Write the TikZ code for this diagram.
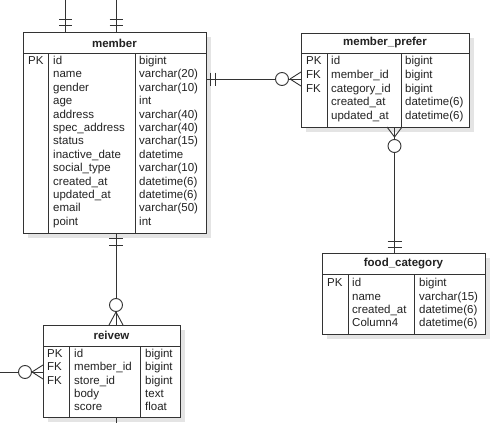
\documentclass[tikz,border=0pt]{standalone}
\usepackage{fontspec}
\setmainfont{Liberation Sans}
\usetikzlibrary{calc,shadows}
\definecolor{ln}{HTML}{333333}
\definecolor{sh}{HTML}{E4E4E4}
\definecolor{tx}{HTML}{222222}
\begin{document}
\begin{tikzpicture}[x=1pt,y=-1pt,
  tbl/.style={draw=ln, line width=0.9pt, fill=white, anchor=north west, inner sep=0pt,
    drop shadow={shadow xshift=5pt, shadow yshift=-5pt, fill=sh, opacity=1}},
  sep/.style={draw=ln, line width=0.9pt},
  hdr/.style={font=\fontsize{11.5}{13}\selectfont\bfseries, text=tx, inner sep=0pt},
  txt/.style={font=\fontsize{11.5}{13}\selectfont, text=tx, inner sep=0pt, anchor=mid west},
  conn/.style={draw=ln, line width=0.9pt},
  ring/.style={draw=ln, line width=0.9pt, fill=white, circle, minimum size=13pt, inner sep=0pt}
]
\useasboundingbox (0,0) rectangle (504,423);

% ---------- member ----------
\node[tbl, minimum width=183pt, minimum height=201pt] (member) at (23,32) {};
\draw[sep] (23,53) -- (206,53) (48,53) -- (48,233) (135,53) -- (135,233);
\node[hdr] (member-h) at (114.5,43) {member};
\node[txt] (m-k1) at (28,61.7) {PK};
\foreach \n [count=\i] in {id,name,gender,age,address,spec\_address,status,inactive\_date,social\_type,created\_at,updated\_at,email,point}
  \node[txt] (m-f-\i) at (53,{61.7+13.42*(\i-1)}) {\n};
\foreach \n [count=\i] in {bigint,varchar(20),varchar(10),int,varchar(40),varchar(40),varchar(15),datetime,varchar(10),datetime(6),datetime(6),varchar(50),int}
  \node[txt] (m-t-\i) at (139,{61.7+13.42*(\i-1)}) {\n};

% ---------- member_prefer ----------
\node[tbl, minimum width=168pt, minimum height=94pt] (prefer) at (301,33) {};
\draw[sep] (301,53) -- (469,53) (327,53) -- (327,127) (401,53) -- (401,127);
\node[hdr] (p-h) at (385,43) {member\_prefer};
\foreach \n [count=\i] in {PK,FK,FK}
  \node[txt] (p-k-\i) at (306,{62.3+13.6*(\i-1)}) {\n};
\foreach \n [count=\i] in {id,member\_id,category\_id,created\_at,updated\_at}
  \node[txt] (p-f-\i) at (331,{62.3+13.6*(\i-1)}) {\n};
\foreach \n [count=\i] in {bigint,bigint,bigint,datetime(6),datetime(6)}
  \node[txt] (p-t-\i) at (405,{62.3+13.6*(\i-1)}) {\n};

% ---------- food_category ----------
\node[tbl, minimum width=163pt, minimum height=81pt] (food) at (322,253) {};
\draw[sep] (322,274) -- (485,274) (348,274) -- (348,334) (414,274) -- (414,334);
\node[hdr] (f-h) at (403.5,263.5) {food\_category};
\node[txt] (f-k1) at (327,284) {PK};
\foreach \n [count=\i] in {id,name,created\_at,Column4}
  \node[txt] (f-f-\i) at (352,{284+13.4*(\i-1)}) {\n};
\foreach \n [count=\i] in {bigint,varchar(15),datetime(6),datetime(6)}
  \node[txt] (f-t-\i) at (419,{284+13.4*(\i-1)}) {\n};

% ---------- reivew ----------
\node[tbl, minimum width=137pt, minimum height=92pt] (review) at (43,325) {};
\draw[sep] (43,346) -- (180,346) (69,346) -- (69,417) (140,346) -- (140,417);
\node[hdr] (r-h) at (111.5,335.5) {reivew};
\foreach \n [count=\i] in {PK,FK,FK}
  \node[txt] (r-k-\i) at (47,{355+13.25*(\i-1)}) {\n};
\foreach \n [count=\i] in {id,member\_id,store\_id,body,score}
  \node[txt] (r-f-\i) at (74,{355+13.25*(\i-1)}) {\n};
\foreach \n [count=\i] in {bigint,bigint,bigint,text,float}
  \node[txt] (r-t-\i) at (145,{355+13.25*(\i-1)}) {\n};

% ---------- connector end points ----------
\coordinate (top1) at (65.7,0);
\coordinate (top2) at (116,0);
\coordinate (m-top1) at (member.north west -| top1);
\coordinate (m-top2) at (member.north west -| top2);
\coordinate (m-right) at (206,79);
\coordinate (p-left) at (301,79);
\coordinate (p-bot) at (394.5,127);
\coordinate (f-top) at (394.5,253);
\coordinate (m-bot) at (116,233);
\coordinate (r-top) at (116,325);
\coordinate (left0) at (0,372);
\coordinate (r-left) at (43,372);
\coordinate (r-bot) at (116,417);
\coordinate (bot0) at (116,423);

% top connectors (mandatory one)
\draw[conn] (top1) -- (m-top1);
\draw[conn] ($(m-top1)+(-6.5,-13)$) -- ++(13,0) ($(m-top1)+(-6.5,-6.5)$) -- ++(13,0);
\draw[conn] (top2) -- (m-top2);
\draw[conn] ($(m-top2)+(-6.5,-13)$) -- ++(13,0) ($(m-top2)+(-6.5,-6.5)$) -- ++(13,0);

% member -- member_prefer
\draw[conn] (m-right) -- (p-left);
\draw[conn] ($(m-right)+(4,-6.5)$) -- ++(0,13) ($(m-right)+(9,-6.5)$) -- ++(0,13);
\draw[conn] ($(p-left)+(-11,0)$) -- ($(p-left)+(0,-7)$) ($(p-left)+(-11,0)$) -- ($(p-left)+(0,7)$);
\node[ring] (c1) at (282,79) {};

% member_prefer -- food_category
\draw[conn] (p-bot) -- (f-top);
\draw[conn] ($(p-bot)+(0,10)$) -- ($(p-bot)+(-7.5,0)$) ($(p-bot)+(0,10)$) -- ($(p-bot)+(7.5,0)$);
\node[ring] (c2) at (394.5,146) {};
\draw[conn] ($(f-top)+(-7,-12)$) -- ++(14,0) ($(f-top)+(-7,-6)$) -- ++(14,0);

% member -- reivew
\draw[conn] (m-bot) -- (r-top);
\draw[conn] ($(m-bot)+(-7,5)$) -- ++(14,0) ($(m-bot)+(-7,12)$) -- ++(14,0);
\draw[conn] ($(r-top)+(0,-13)$) -- ($(r-top)+(-7,0)$) ($(r-top)+(0,-13)$) -- ($(r-top)+(7,0)$);
\node[ring] (c3) at (116,305) {};

% left -- reivew
\draw[conn] (left0) -- (r-left);
\draw[conn] ($(r-left)+(-11,0)$) -- ($(r-left)+(0,-7)$) ($(r-left)+(-11,0)$) -- ($(r-left)+(0,7)$);
\node[ring] (c4) at (25,372) {};

% reivew bottom
\draw[conn] (r-bot) -- (bot0);
\end{tikzpicture}
\end{document}
